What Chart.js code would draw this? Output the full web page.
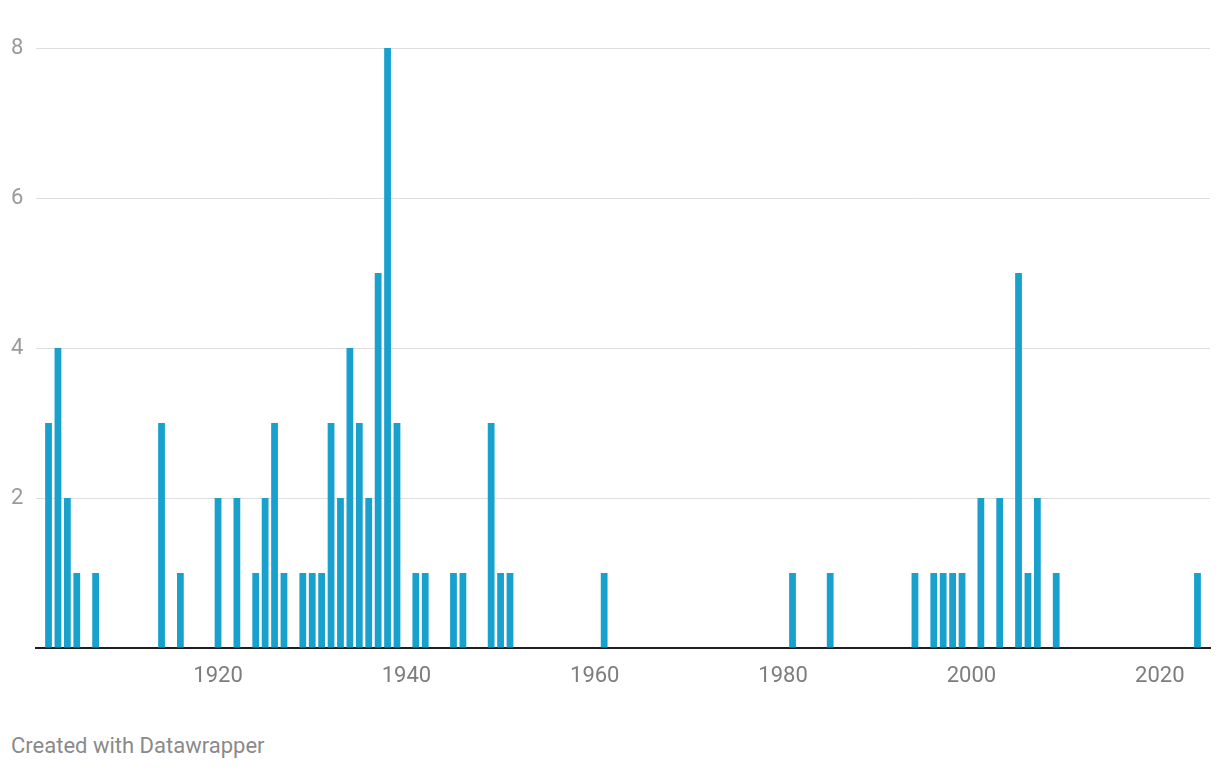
<!DOCTYPE html>
<html>
<head>
<meta charset="utf-8">
<script src="https://cdn.jsdelivr.net/npm/chart.js@4"></script>
<style>
  body { margin: 0; background: #fff; font-family: Roboto, sans-serif; }
  #wrap { position: absolute; left: 0; top: 0; width: 1220px; height: 700px; }
  #note { position: absolute; left: 11px; top: 733px; font-size: 22px; color: #8a8a8a; }
</style>
</head>
<body>
<div id="wrap"><canvas id="chart"></canvas></div>
<div id="note">Created with Datawrapper</div>
<script>
// ================================
// DATA
// ================================
const years = [1902, 1903, 1904, 1905, 1907, 1914, 1916, 1920, 1922, 1924, 1925, 1926, 1927,
    1929, 1930, 1931, 1932, 1933, 1934, 1935, 1936, 1937, 1938, 1939, 1941, 1942, 1945, 1946,
    1949, 1950, 1951, 1961, 1981, 1985, 1994, 1996, 1997, 1998, 1999, 2001, 2003, 2005, 2006,
    2007, 2009, 2024];
const counts = [3, 4, 2, 1, 1, 3, 1, 2, 2, 1, 2, 3, 1,
    1, 1, 1, 3, 2, 4, 3, 2, 5, 8, 3, 1, 1, 1, 1,
    3, 1, 1, 1, 1, 1, 1, 1, 1, 1, 1, 2, 2, 5, 1,
    2, 1, 1];
const xTicks = [1920, 1940, 1960, 1980, 2000, 2020];
const yTicks = [0, 2, 4, 6, 8];

// ================================
// CHART
// ================================
const points = years.map((y, i) => ({ x: y, y: counts[i] }));

new Chart(document.getElementById("chart"), {
    type: "bar",
    data: {
        datasets: [{
            data: points,
            backgroundColor: "#18a1cd",
            borderWidth: 0,
            categoryPercentage: 1,
            barPercentage: 0.72
        }]
    },
    options: {
        responsive: true,
        maintainAspectRatio: false,
        animation: false,
        layout: { padding: { left: 11, right: 10, top: 48, bottom: 0 } },
        plugins: { legend: { display: false }, tooltip: { enabled: false } },
        scales: {
            x: {
                type: "linear",
                offset: false,
                min: 1900.67,
                max: 2025.33,
                afterFit: scale => { scale.height = 52; },
                afterBuildTicks: scale => { scale.ticks = xTicks.map(v => ({ value: v })); },
                grid: { display: false, drawTicks: false },
                border: { display: true, color: "#1e1e1e", width: 2 },
                ticks: {
                    padding: 15,
                    color: "#7d7d7d",
                    font: { family: "Roboto", size: 22 },
                    callback: v => String(v)
                }
            },
            y: {
                min: 0,
                max: 8,
                afterFit: scale => { scale.width = 25; },
                afterBuildTicks: scale => { scale.ticks = yTicks.map(v => ({ value: v })); },
                grid: {
                    drawTicks: false,
                    color: ctx => ctx.tick && ctx.tick.value === 0 ? "rgba(0,0,0,0)" : "#dedede",
                    lineWidth: 1
                },
                border: { display: false },
                ticks: {
                    crossAlign: "far",
                    padding: 0,
                    color: "#9a9a9a",
                    font: { family: "Roboto", size: 22 },
                    callback: v => v === 0 ? "" : String(v)
                }
            }
        }
    }
});
</script>
</body>
</html>
